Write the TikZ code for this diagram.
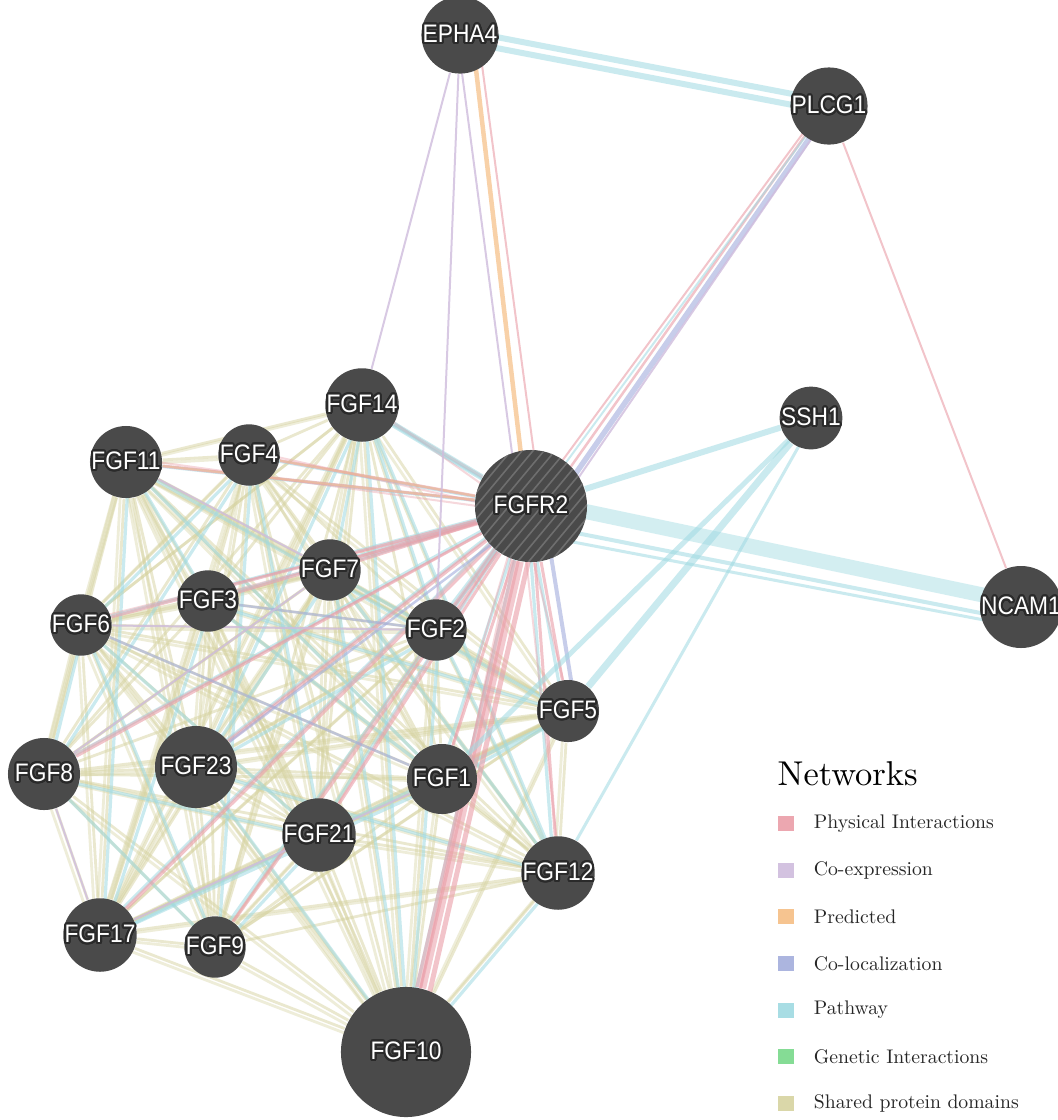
\documentclass[tikz,border=0pt]{standalone}
\usepackage{fontspec}
\newfontfamily\genefont[FakeStretch=0.9]{Liberation Sans}
\newfontfamily\legfont{lmroman10-regular.otf}
\usepackage[copies]{contour}
\contourlength{0.6pt}
\contournumber{24}
\usetikzlibrary{positioning,backgrounds}

\definecolor{genefill}{HTML}{4A4A4A}
\definecolor{generim}{HTML}{2A2A2A}
\definecolor{hatchc}{HTML}{6E6E6E}
\definecolor{sharedc}{HTML}{D6D3A0}
\definecolor{pathc}{HTML}{9FDAE2}
\definecolor{physc}{HTML}{EA9EA8}
\definecolor{coexpc}{HTML}{CFBCDD}
\definecolor{predc}{HTML}{F6BE84}
\definecolor{colocc}{HTML}{A3ADDC}
\definecolor{genc}{HTML}{78D98A}

\newcommand{\glab}[1]{\contour{generim}{#1}}
\def\fgfs{fgf14,fgf11,fgf4,fgf7,fgf3,fgf6,fgf2,fgf5,fgf8,fgf23,fgf1,fgf21,fgf12,fgf17,fgf9,fgf10}

\begin{document}
\begin{tikzpicture}[x=0.01cm, y=-0.01cm,
    gene/.style={circle, fill=genefill, inner sep=0pt, minimum size=#1*0.2mm, text=white,
      font=\genefont\fontsize{7.2}{8}\selectfont},
    shared/.style={draw=sharedc, opacity=.5, line width=.28mm},
    pathway/.style={draw=pathc, opacity=.55, line width=.32mm},
    physical/.style={draw=physc, opacity=.6, line width=.3mm},
    coexp/.style={draw=coexpc, opacity=.8, line width=.2mm},
    predicted/.style={draw=predc, opacity=.6, line width=.35mm},
    coloc/.style={draw=colocc, opacity=.6, line width=.4mm},
    legbox/.style={minimum size=1.5mm, inner sep=0pt, opacity=.9},
    legtext/.style={inner sep=0pt, anchor=west, font=\legfont\fontsize{5.6}{7}\selectfont, text=black!85}
  ]
\useasboundingbox (0,0) rectangle (1058,1120);

% Genes
\foreach \nm/\lab/\x/\y/\r in {epha4/EPHA4/460/35/22, plcg1/PLCG1/829/106/22, fgf14/FGF14/362/405/22,
    ssh1/SSH1/811/418/22, fgf11/FGF11/126/462/23, fgf4/FGF4/249/455/24, fgf7/FGF7/330/570/26,
    fgf3/FGF3/208/601/28, fgf6/FGF6/81/625/29, fgf2/FGF2/436/630/25, ncam1/NCAM1/1021/607/38,
    fgf5/FGF5/568/711/31, fgf8/FGF8/44/774/36, fgf23/FGF23/196/767/41, fgf1/FGF1/442/779/35,
    fgf21/FGF21/319/835/26, fgf12/FGF12/558/873/25, fgf17/FGF17/100/935/24, fgf9/FGF9/215/947/30,
    fgf10/FGF10/406/1052/65}
  \node[gene=\r] (\nm) at (\x,\y) {\glab{\lab}};

% Query gene, hatched
\node[gene=56, path picture={
    \foreach \t in {-11,...,11}
      \draw[hatchc, line width=.16mm] ([shift={(\t*11-50,60)}]path picture bounding box.center) -- ++(100,-120);
  }] (fgfr2) at (531,506) {\glab{FGFR2}};

\begin{scope}[on background layer]
\fill[white] (0,0) rectangle (1058,1120);

% Shared protein domains between all FGFs
\foreach \a [count=\i] in \fgfs {
  \foreach \b [count=\j] in \fgfs {
    \ifnum\j>\i \draw[shared] (\a) -- (\b); \fi
    \pgfmathtruncatemacro{\twice}{(mod(\i*\j,2)==0) && (\j>\i)}
    \ifnum\twice=1 \draw[shared, opacity=.4] ([shift={(-4,3)}]\a.center) -- ([shift={(-4,3)}]\b.center); \fi
  }
}

% Pathway links among FGFs
\foreach \a [count=\i] in \fgfs {
  \foreach \b [count=\j] in \fgfs {
    \pgfmathtruncatemacro{\pick}{(mod(\i+2*\j,3)==0) && (\j>\i)}
    \ifnum\pick=1 \draw[pathway] ([shift={(3,3)}]\a.center) -- ([shift={(3,3)}]\b.center); \fi
  }
}

% FGFR2 to every FGF
\foreach \a in \fgfs {
  \draw[pathway] ([shift={(-4,0)}]fgfr2.center) -- ([shift={(-4,0)}]\a.center);
  \draw[physical] (fgfr2) -- (\a);
  \draw[physical, opacity=.4, line width=.2mm] ([shift={(-10,6)}]fgfr2.center) -- ([shift={(2,-4)}]\a.center);
}
\draw[physical, line width=1.1mm, opacity=.55] (fgfr2) -- (fgf10);
\draw[physical, line width=.5mm] ([shift={(10,0)}]fgfr2.center) -- ([shift={(10,0)}]fgf10.center);
\draw[coloc] ([shift={(12,0)}]fgfr2.center) -- ([shift={(8,0)}]fgf5.center);
\draw[coloc, line width=.25mm] ([shift={(6,4)}]fgfr2.center) -- (fgf23);
\draw[coloc, line width=.25mm] (fgf3) -- (fgf2);
\draw[coloc, line width=.25mm] (fgf6) -- (fgf1);
\draw[predicted, line width=.2mm, opacity=.45] (fgfr2) -- (fgf4);
\draw[predicted, line width=.2mm, opacity=.45] (fgfr2) -- (fgf11);
\draw[pathway, line width=.5mm] (fgfr2) -- (fgf14);

% Co-expression among FGFs
\draw[coexp] (fgf8) -- (fgf17);
\draw[coexp] (fgf6) -- (fgf2);
\draw[coexp] (fgf17) -- (fgf1);
\draw[coexp] (fgf11) -- (fgf7);
\draw[coexp] (fgf8) -- (fgf7);

% EPHA4 and PLCG1
\draw[pathway, line width=.6mm] ([shift={(0,-5)}]epha4.center) -- ([shift={(0,-5)}]plcg1.center);
\draw[pathway, line width=.6mm] ([shift={(0,6)}]epha4.center) -- ([shift={(0,6)}]plcg1.center);
\draw[coexp] (epha4) -- (fgf14);
\draw[coexp] (epha4) -- (fgf2);
\draw[coexp] ([shift={(-3,0)}]epha4.center) -- ([shift={(-12,0)}]fgfr2.center);
\draw[predicted, line width=.45mm, opacity=.7] ([shift={(12,0)}]epha4.center) -- ([shift={(-4,0)}]fgfr2.center);
\draw[physical, line width=.2mm] ([shift={(18,0)}]epha4.center) -- ([shift={(10,0)}]fgfr2.center);
\draw[physical, line width=.2mm] (plcg1) -- (ncam1);
\draw[physical, line width=.2mm] ([shift={(-6,0)}]plcg1.center) -- ([shift={(-2,0)}]fgfr2.center);
\draw[physical, line width=.25mm] ([shift={(-3,0)}]plcg1.center) -- ([shift={(12,0)}]fgfr2.center);
\draw[pathway, line width=.2mm] ([shift={(-1,0)}]plcg1.center) -- ([shift={(6,-4)}]fgfr2.center);
\draw[coloc, line width=.55mm] ([shift={(3,0)}]plcg1.center) -- ([shift={(22,0)}]fgfr2.center);
\draw[coexp] ([shift={(5,0)}]plcg1.center) -- ([shift={(28,0)}]fgfr2.center);

% SSH1 and NCAM1
\draw[pathway, line width=.6mm] (ssh1) -- (fgfr2);
\draw[pathway, line width=.7mm] (ssh1) -- (fgf5);
\draw[pathway, line width=.5mm] ([shift={(-3,3)}]ssh1.center) -- (fgf1);
\draw[pathway, line width=.3mm] ([shift={(2,3)}]ssh1.center) -- (fgf12);
\draw[pathway, line width=1.5mm, opacity=.45] ([shift={(0,-6)}]fgfr2.center) -- ([shift={(0,-4)}]ncam1.center);
\draw[pathway, line width=.4mm] ([shift={(0,18)}]fgfr2.center) -- ([shift={(0,14)}]ncam1.center);
\draw[pathway, line width=.3mm] ([shift={(0,28)}]fgfr2.center) -- ([shift={(0,20)}]ncam1.center);
\end{scope}

% Legend
\node[anchor=base west, inner sep=0pt, font=\legfont\fontsize{9.8}{11}\selectfont] (nethead) at (777,785) {Networks};
\foreach \lab/\col [count=\k] in {Physical Interactions/physc, Co-expression/coexpc, Predicted/predc,
    Co-localization/colocc, Pathway/pathc, Genetic Interactions/genc, Shared protein domains/sharedc} {
  \node[legbox, fill=\col] (key\k) at (786,{777+46.6*\k}) {};
  \node[legtext, right=1.9mm of key\k] (lab\k) {\lab};
}

\end{tikzpicture}
\end{document}
